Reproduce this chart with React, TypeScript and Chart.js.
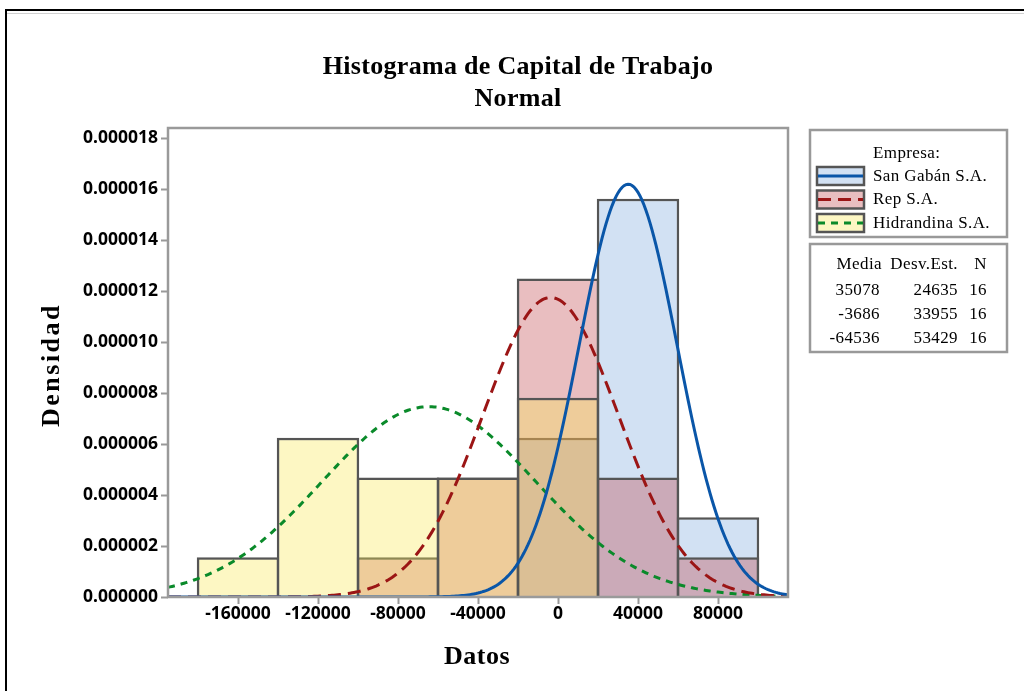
import React, { useEffect, useRef } from "react";
import { Chart, registerables } from "chart.js";

Chart.register(...registerables);

// ---- data ----
const BIN_CENTERS = [-160000, -120000, -80000, -40000, 0, 40000, 80000];
const SERIES = ["San Gabán S.A.", "Rep S.A.", "Hidrandina S.A."];
const SAN_GABAN_DENSITY = [0, 0, 0, 0, 0.00000625, 0.000015625, 0.000003125];
const REP_DENSITY = [0, 0, 0.0000015625, 0.0000046875, 0.0000125, 0.0000046875, 0.0000015625];
const HIDRANDINA_DENSITY = [0.0000015625, 0.00000625, 0.0000046875, 0.0000046875, 0.0000078125, 0, 0];
const MEDIA = [35078, -3686, -64536];
const DESV_EST = [24635, 33955, 53429];
const N_OBS = [16, 16, 16];
const X_TICKS = [-160000, -120000, -80000, -40000, 0, 40000, 80000];
const Y_TICKS = [0, 0.000002, 0.000004, 0.000006, 0.000008, 0.00001, 0.000012, 0.000014, 0.000016, 0.000018];
const X_MIN = -195000;
const X_MAX = 115000;
const Y_MAX = 0.0000184;
const CURVE_STEP = 1000;

const FILLS = ["rgba(180,205,235,0.6)", "rgba(192,69,75,0.35)", "rgba(249,232,84,0.35)"];
const LINE_COLORS = ["#0a56a8", "#9b1515", "#0a8a2a"];
const DASHES: number[][] = [[], [13, 7], [7, 6]];

// fitted normal density from the Media / Desv.Est. shown in the chart's table
function normalCurve(mean: number, sd: number) {
  const pts: { x: number; y: number }[] = [];
  for (let x = X_MIN; x <= X_MAX; x += CURVE_STEP) {
    const z = (x - mean) / sd;
    pts.push({ x, y: Math.exp(-0.5 * z * z) / (sd * Math.sqrt(2 * Math.PI)) });
  }
  return pts;
}

function bars(vals: number[]) {
  return BIN_CENTERS.map((x, i) => ({ x, y: vals[i] })).filter((p) => p.y > 0);
}

const SERIF = "'Liberation Serif', 'Times New Roman', serif";

const decor = {
  id: "decor",
  beforeDraw(chart: any) {
    const { ctx, width, height } = chart;
    ctx.save();
    ctx.fillStyle = "#fff";
    ctx.fillRect(0, 0, width, height);
    ctx.restore();
  },
  afterDraw(chart: any) {
    const { ctx, chartArea: a } = chart;
    ctx.save();
    // plot frame
    ctx.strokeStyle = "#9a9a9a";
    ctx.lineWidth = 2.5;
    ctx.strokeRect(a.left, a.top, a.right - a.left, a.bottom - a.top);

    // outer frame (top and left visible)
    ctx.strokeStyle = "#000";
    ctx.lineWidth = 2;
    ctx.beginPath();
    ctx.moveTo(6, 700);
    ctx.lineTo(6, 10);
    ctx.lineTo(1030, 10);
    ctx.stroke();
    ctx.strokeStyle = "#d0d0d0";
    ctx.lineWidth = 1;
    ctx.beginPath();
    ctx.moveTo(7, 13.5);
    ctx.lineTo(1030, 13.5);
    ctx.stroke();

    // titles
    ctx.fillStyle = "#000";
    ctx.textAlign = "center";
    ctx.textBaseline = "alphabetic";
    ctx.font = `bold 26px ${SERIF}`;
    (ctx as any).letterSpacing = "0.3px";
    ctx.fillText("Histograma de Capital de Trabajo", 518, 74);
    ctx.fillText("Normal", 518, 106);

    ctx.font = `bold 26px ${SERIF}`;
    (ctx as any).letterSpacing = "0.5px";
    ctx.fillText("Datos", 477, 664);
    ctx.save();
    ctx.translate(59, 365);
    ctx.rotate(-Math.PI / 2);
    (ctx as any).letterSpacing = "2.5px";
    ctx.fillText("Densidad", 0, 0);
    ctx.restore();
    (ctx as any).letterSpacing = "0px";

    // legend box
    ctx.strokeStyle = "#999";
    ctx.lineWidth = 2.5;
    ctx.strokeRect(810, 130, 197, 107);
    ctx.strokeRect(810, 244, 197, 108);

    ctx.font = `17px ${SERIF}`;
    (ctx as any).letterSpacing = "0.4px";
    ctx.textAlign = "left";
    ctx.fillText("Empresa:", 873, 158);
    for (let i = 0; i < 3; i++) {
      const y = 167 + i * 23.5;
      ctx.fillStyle = "#fff";
      ctx.fillRect(817, y, 47, 18);
      ctx.fillStyle = FILLS[i];
      ctx.fillRect(817, y, 47, 18);
      ctx.strokeStyle = "#555";
      ctx.lineWidth = 2.5;
      ctx.strokeRect(817, y, 47, 18);
      ctx.strokeStyle = LINE_COLORS[i];
      ctx.lineWidth = 3;
      ctx.setLineDash(DASHES[i]);
      ctx.beginPath();
      ctx.moveTo(818, y + 9);
      ctx.lineTo(863, y + 9);
      ctx.stroke();
      ctx.setLineDash([]);
      ctx.fillStyle = "#000";
      ctx.textBaseline = "middle";
      ctx.fillText(SERIES[i], 873, y + 9.5);
    }

    // stats table
    ctx.textBaseline = "alphabetic";
    ctx.textAlign = "right";
    ctx.fillText("Media", 882, 269);
    ctx.fillText("Desv.Est.", 958, 269);
    ctx.fillText("N", 987, 269);
    for (let i = 0; i < 3; i++) {
      const y = 295 + i * 24;
      ctx.fillText(String(MEDIA[i]), 880, y);
      ctx.fillText(String(DESV_EST[i]), 958, y);
      ctx.fillText(String(N_OBS[i]), 987, y);
    }
    ctx.restore();
  },
};

export default function App() {
  const ref = useRef<HTMLCanvasElement | null>(null);
  useEffect(() => {
    document.body.style.margin = "0";
    const canvas = ref.current!;
    const densities = [SAN_GABAN_DENSITY, REP_DENSITY, HIDRANDINA_DENSITY];
    const barSets = densities.map((d, i) => ({
      type: "bar" as const,
      label: SERIES[i],
      data: bars(d),
      backgroundColor: FILLS[i],
      borderColor: "#555",
      borderWidth: 2.5,
      barPercentage: 1.031,
      categoryPercentage: 1,
      grouped: false,
      order: 10 - i,
    }));
    const lineSets = [2, 1, 0].map((i) => ({
      type: "line" as const,
      label: SERIES[i] + " normal",
      data: normalCurve(MEDIA[i], DESV_EST[i]),
      borderColor: LINE_COLORS[i],
      borderWidth: 3,
      borderDash: DASHES[i],
      pointRadius: 0,
      fill: false,
      tension: 0,
      order: i - 5,
    }));
    const tickFont = { family: "'Noto Sans', 'Liberation Sans', sans-serif", size: 17.5, weight: "bold" as const };
    const chart = new Chart(canvas, {
      type: "bar",
      data: { datasets: [...barSets, ...lineSets] as any },
      options: {
        responsive: false,
        animation: false,
        devicePixelRatio: 1,
        layout: { padding: { left: 0, top: 128, right: 236, bottom: 0 } },
        plugins: { legend: { display: false }, tooltip: { enabled: false }, title: { display: false } },
        scales: {
          x: {
            type: "linear",
            min: X_MIN,
            max: X_MAX,
            offset: false,
            afterFit: (s: any) => {
              s.height = 94;
            },
            afterBuildTicks: (s: any) => {
              s.ticks = X_TICKS.map((v) => ({ value: v }));
            },
            ticks: { font: tickFont, color: "#000", padding: 0, maxRotation: 0, autoSkip: false, callback: (v: any) => String(v) },
            grid: { display: true, offset: false, drawOnChartArea: false, drawTicks: true, tickLength: 7, tickWidth: 2, color: "#999" },
            border: { display: false },
          },
          y: {
            type: "linear",
            min: 0,
            max: Y_MAX,
            afterFit: (s: any) => {
              s.width = 168;
            },
            afterBuildTicks: (s: any) => {
              s.ticks = Y_TICKS.map((v) => ({ value: v }));
            },
            ticks: { font: tickFont, color: "#000", padding: 3, autoSkip: false, callback: (v: any) => Number(v).toFixed(6) },
            grid: { display: true, drawOnChartArea: false, drawTicks: true, tickLength: 7, tickWidth: 2, color: "#999" },
            border: { display: false },
          },
        },
      },
      plugins: [decor],
    });
    return () => chart.destroy();
  }, []);
  return <canvas ref={ref} width={1024} height={691} style={{ display: "block" }} />;
}
